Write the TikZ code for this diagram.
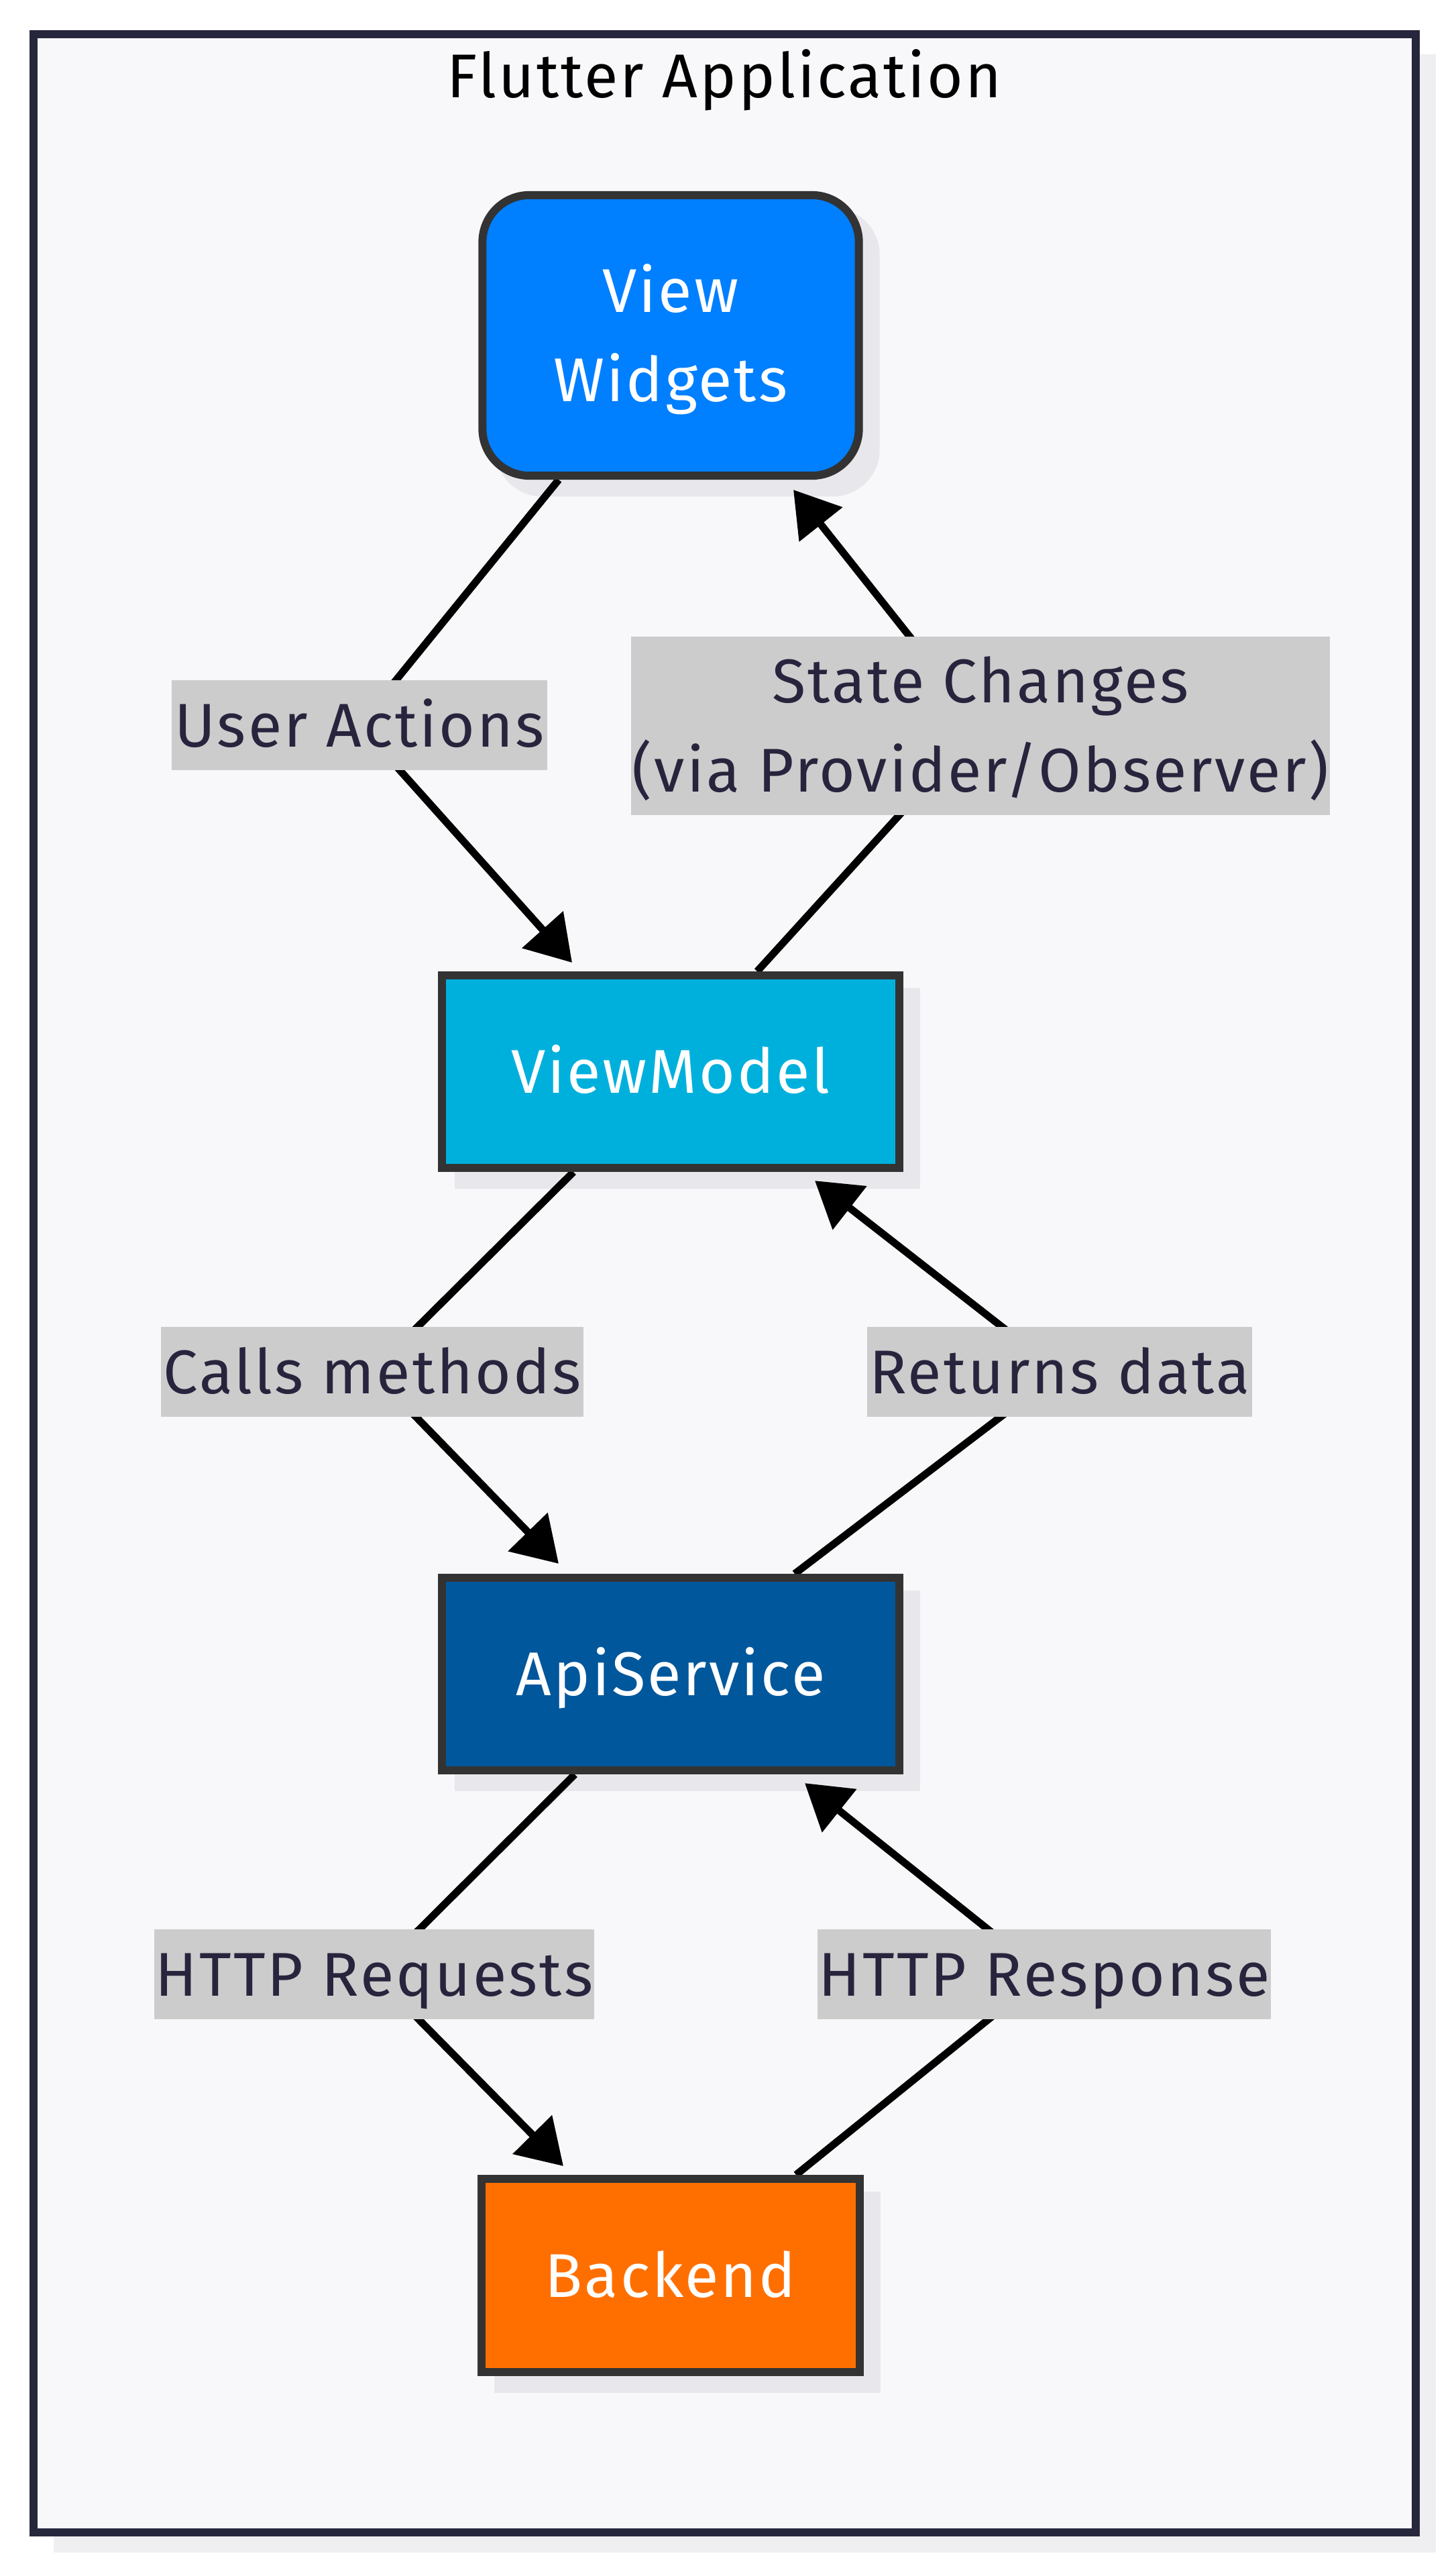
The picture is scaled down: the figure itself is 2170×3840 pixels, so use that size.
\documentclass[tikz,border=0pt]{standalone}
\usepackage{fontspec}
\setmainfont[LetterSpace=3.3]{Fira Sans}
\usetikzlibrary{arrows.meta,calc}
\pgfdeclarelayer{back}
\pgfdeclarelayer{shd}
\pgfdeclarelayer{edges}
\pgfsetlayers{back,shd,edges,main}
\definecolor{framefill}{HTML}{F8F8FA}
\definecolor{framedraw}{HTML}{26263C}
\definecolor{frameshadow}{HTML}{EFEFF1}
\definecolor{nodeshadow}{HTML}{E8E8EC}
\definecolor{nodeborder}{HTML}{333333}
\definecolor{vwfill}{HTML}{007FFF}
\definecolor{vmfill}{HTML}{00B0DC}
\definecolor{apifill}{HTML}{01579B}
\definecolor{befill}{HTML}{FF6F00}
\definecolor{lblfill}{HTML}{CCCCCC}
\definecolor{lbltext}{HTML}{28243D}
\newcommand\mystrut{\rule[-0.31cm]{0pt}{1.26cm}}
\begin{document}
\begin{tikzpicture}[x=0.01cm,y=-0.01cm,
  font=\fontsize{26.2pt}{37.84pt}\selectfont,
  box/.style={draw=nodeborder, line width=0.12cm, text=white, inner sep=0pt, align=center},
  lbl/.style={fill=lblfill, text=lbltext, inner xsep=0.02cm, inner ysep=0.035cm, align=center, minimum height=1.33cm},
  edge/.style={draw=black, line width=0.11cm, -{Triangle[length=0.66cm,width=0.8cm]}},
  nshd/.style={fill=nodeshadow}]
\useasboundingbox (0,0) rectangle (2170,3840);

\begin{pgfonlayer}{back}
  \fill[white] (0,0) rectangle (2170,3840);
  \fill[frameshadow] (80,81) rectangle (2141,3805);
  \draw[fill=framefill, draw=framedraw, line width=0.12cm] (50,51) rectangle (2111,3775);
\end{pgfonlayer}

\node[anchor=base, text=black] (title) at (1080,146) {Flutter Application};

% main nodes
\node[box, fill=vwfill, rounded corners=0.7cm, minimum width=5.61cm, minimum height=4.18cm] (vw) at (1000,500) {\mystrut View\\\mystrut Widgets};
\node[box, fill=vmfill, minimum width=6.82cm, minimum height=2.87cm] (vm) at (1000,1597.5) {\mystrut ViewModel};
\node[box, fill=apifill, minimum width=6.82cm, minimum height=2.87cm] (api) at (1000,2495.5) {\mystrut ApiService};
\node[box, fill=befill, minimum width=5.64cm, minimum height=2.88cm] (be) at (1000,3392) {\mystrut Backend};

% edge labels
\node[lbl, minimum width=5.6cm] (lua) at (536,1081) {\mystrut User Actions};
\node[lbl, minimum width=10.37cm] (lsc) at (1462,1082) {\mystrut State Changes\\\mystrut (via Provider/Observer)};
\node[lbl, minimum width=6.29cm] (lcm) at (555,2045) {\mystrut Calls methods};
\node[lbl, minimum width=5.73cm] (lrd) at (1580,2045) {\mystrut Returns data};
\node[lbl, minimum width=6.48cm] (lhq) at (558,2943) {\mystrut HTTP Requests};
\node[lbl, minimum width=6.61cm] (lhr) at (1557,2943) {\mystrut HTTP Response};

\begin{pgfonlayer}{shd}
  \fill[nshd, rounded corners=0.7cm] ($(vw.south west)+(25,25)$) rectangle ($(vw.north east)+(25,25)$);
  \fill[nshd] ($(vm.south west)+(25,25)$) rectangle ($(vm.north east)+(25,25)$);
  \fill[nshd] ($(api.south west)+(25,25)$) rectangle ($(api.north east)+(25,25)$);
  \fill[nshd] ($(be.south west)+(25,25)$) rectangle ($(be.north east)+(25,25)$);
\end{pgfonlayer}

\begin{pgfonlayer}{edges}
  \draw[edge] ($(vw.south)+(-167,0)$) -- (lua.center) -- ($(vm.north)+(-147,-13)$);
  \draw[edge] ($(vm.north)+(129,0)$) -- (lsc.center) -- ($(vw.south)+(183,15)$);
  \draw[edge] ($(vm.south)+(-145,0)$) -- (lcm.center) -- ($(api.north)+(-167,-15)$);
  \draw[edge] ($(api.north)+(185,0)$) -- (lrd.center) -- ($(vm.south)+(215,13)$);
  \draw[edge] ($(api.south)+(-143,0)$) -- (lhq.center) -- ($(be.north)+(-160,-13)$);
  \draw[edge] ($(be.north)+(187,0)$) -- (lhr.center) -- ($(api.south)+(200,13)$);
\end{pgfonlayer}
\end{tikzpicture}
\end{document}
